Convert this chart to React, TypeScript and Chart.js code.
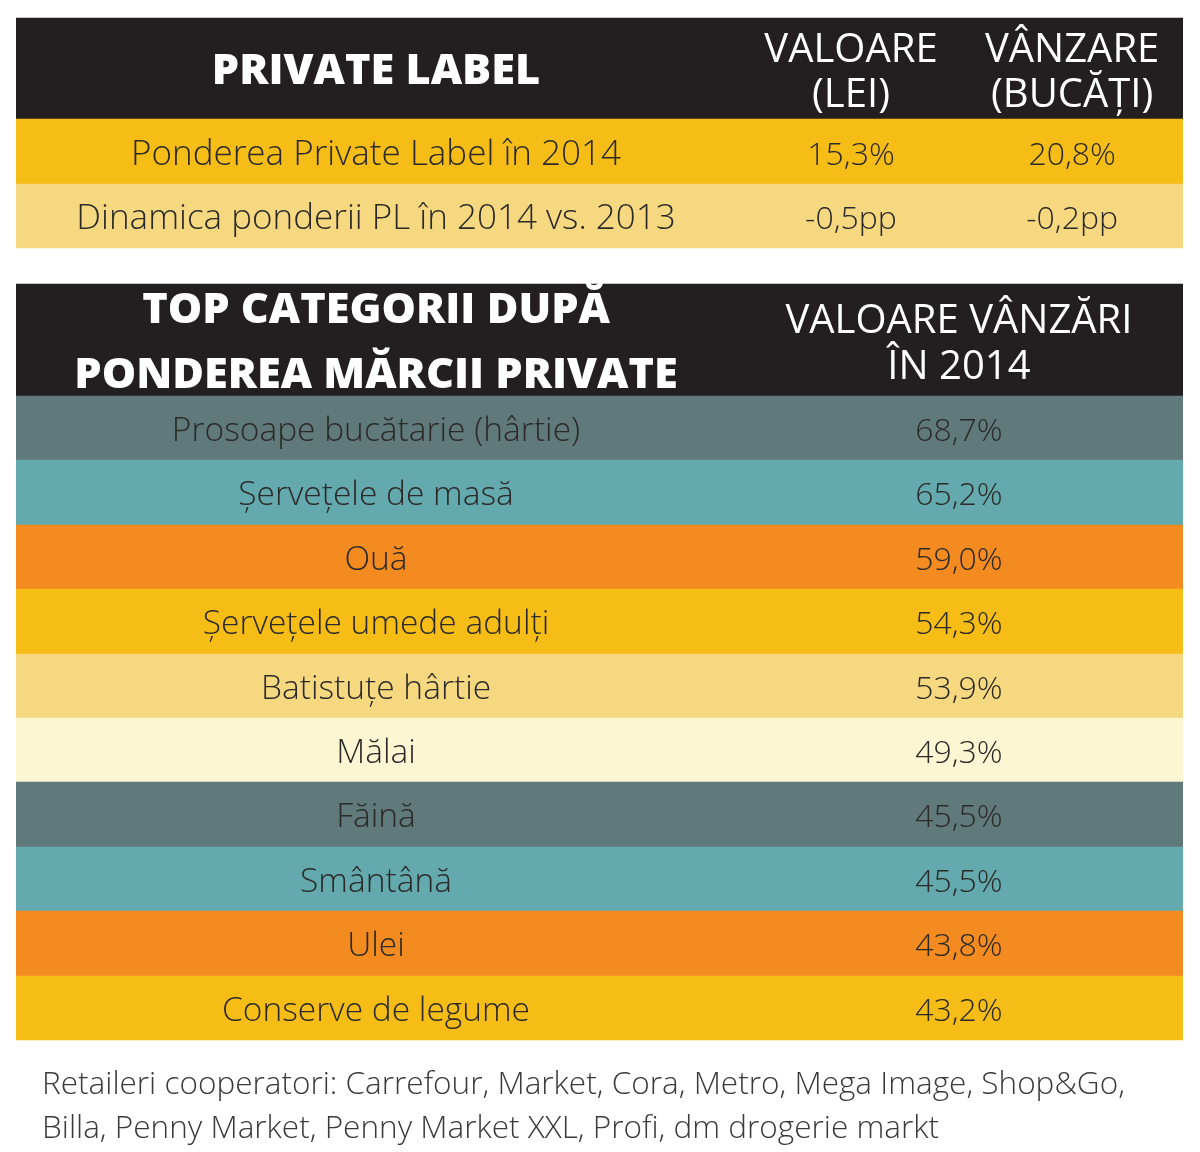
import React, { useEffect, useRef } from "react";
import { Chart, registerables } from "chart.js";

Chart.register(...registerables);

// ---------- data ----------
const summaryHeadLabel = "PRIVATE LABEL";
const summaryHeadValue = ["VALOARE", "(LEI)"];
const summaryHeadUnits = ["VÂNZARE", "(BUCĂȚI)"];
const summaryLabels = ["Ponderea Private Label în 2014", "Dinamica ponderii PL în 2014 vs. 2013"];
const summaryValue = ["15,3%", "-0,5pp"];
const summaryUnits = ["20,8%", "-0,2pp"];

const topHeadLabel = ["TOP CATEGORII DUPĂ", "PONDEREA MĂRCII PRIVATE"];
const topHeadValue = ["VALOARE VÂNZĂRI", "ÎN 2014"];
const categories = [
  "Prosoape bucătarie (hârtie)",
  "Șervețele de masă",
  "Ouă",
  "Șervețele umede adulți",
  "Batistuțe hârtie",
  "Mălai",
  "Făină",
  "Smântână",
  "Ulei",
  "Conserve de legume",
];
const shares = [68.7, 65.2, 59.0, 54.3, 53.9, 49.3, 45.5, 45.5, 43.8, 43.2];
const footnote = [
  "Retaileri cooperatori: Carrefour, Market, Cora, Metro, Mega Image, Shop&Go,",
  "Billa, Penny Market, Penny Market XXL, Profi, dm drogerie markt",
];

// ---------- styles ----------
const BLACK = "#231f20";
const YELLOW = "#f6bd16";
const LIGHT_YELLOW = "#f6d880";
const CREAM = "#fdf6d2";
const SLATE = "#607a7b";
const TEAL = "#64a9ad";
const ORANGE = "#f48b21";
const summaryColors = [YELLOW, LIGHT_YELLOW];
const categoryColors = [SLATE, TEAL, ORANGE, YELLOW, LIGHT_YELLOW, CREAM, SLATE, TEAL, ORANGE, YELLOW];

const FONT = '"Open Sans", "Noto Sans", sans-serif';
const TEXT_DARK = "#2b2a28";

// layout (px)
const W = 1200;
const H = 1152;
const TOP1 = 18;
const HEAD1_H = 101;
const SUM_ROW_H = 64.5;
const GAP = 36;
const HEAD2_H = 112;
const CAT_ROW_H = 64.4;

type Row = { kind: string; i: number; top: number; bottom: number; color: string };

function buildRows(): Row[] {
  const rows: Row[] = [];
  let y = TOP1;
  rows.push({ kind: "head1", i: 0, top: y, bottom: y + HEAD1_H, color: BLACK });
  y += HEAD1_H;
  summaryLabels.forEach((_, i) => {
    rows.push({ kind: "sum", i, top: Math.round(y), bottom: Math.round(y + SUM_ROW_H), color: summaryColors[i] });
    y += SUM_ROW_H;
  });
  y = Math.round(y) + GAP;
  rows.push({ kind: "head2", i: 0, top: y, bottom: y + HEAD2_H, color: BLACK });
  y += HEAD2_H;
  categories.forEach((_, i) => {
    rows.push({ kind: "cat", i, top: Math.round(y), bottom: Math.round(y + CAT_ROW_H), color: categoryColors[i] });
    y += CAT_ROW_H;
  });
  return rows;
}

function drawText(
  ctx: CanvasRenderingContext2D,
  text: string,
  cx: number,
  baseline: number,
  font: string,
  color: string,
  sx = 1,
  align: CanvasTextAlign = "center"
) {
  ctx.save();
  ctx.translate(cx, baseline);
  ctx.scale(sx, 1);
  ctx.font = font;
  ctx.fillStyle = color;
  ctx.textAlign = align;
  ctx.textBaseline = "alphabetic";
  ctx.fillText(text, 0, 0);
  ctx.restore();
}

const fmt = (v: number) => v.toFixed(1).replace(".", ",") + "%";

export default function App() {
  const ref = useRef<HTMLCanvasElement | null>(null);

  useEffect(() => {
    if (!ref.current) return;
    const rows = buildRows();

    const textPlugin = {
      id: "tableText",
      afterDatasetsDraw(chart: any) {
        const ctx: CanvasRenderingContext2D = chart.ctx;
        const meta = chart.getDatasetMeta(0);
        meta.data.forEach((el: any, idx: number) => {
          const r = rows[idx];
          const left = el.x - el.width / 2;
          const w = el.width;
          const cy = (el.y + el.base) / 2;
          const colL = left + w * 0.3085;
          const colV = left + w * 0.7155;
          const colU = left + w * 0.905;
          const colR = left + w * 0.808;
          if (r.kind === "head1") {
            drawText(ctx, summaryHeadLabel, colL, cy + 15, `800 42px ${FONT}`, "#ffffff", 1.03);
            const f = `400 40px ${FONT}`;
            const b1 = cy - 22.5 + 14.3 + 2;
            drawText(ctx, summaryHeadValue[0], colV, b1, f, "#ffffff");
            drawText(ctx, summaryHeadValue[1], colV, b1 + 45, f, "#ffffff");
            drawText(ctx, summaryHeadUnits[0], colU, b1, f, "#ffffff");
            drawText(ctx, summaryHeadUnits[1], colU, b1 + 45, f, "#ffffff");
          } else if (r.kind === "sum") {
            const b = cy + 13;
            drawText(ctx, summaryLabels[r.i], colL, b, `300 35px ${FONT}`, TEXT_DARK);
            drawText(ctx, summaryValue[r.i], colV, b, `300 32px ${FONT}`, TEXT_DARK);
            drawText(ctx, summaryUnits[r.i], colU, b, `300 32px ${FONT}`, TEXT_DARK);
          } else if (r.kind === "head2") {
            const fb = `800 42px ${FONT}`;
            const b1 = cy - 32.5 + 15;
            drawText(ctx, topHeadLabel[0], colL, b1, fb, "#ffffff", 1.03);
            drawText(ctx, topHeadLabel[1], colL, b1 + 65, fb, "#ffffff", 1.03);
            const f = `400 40px ${FONT}`;
            const b2 = cy - 23 + 14.3 + 2;
            drawText(ctx, topHeadValue[0], colR, b2, f, "#ffffff");
            drawText(ctx, topHeadValue[1], colR, b2 + 46, f, "#ffffff");
          } else {
            const b = cy + 12.5;
            drawText(ctx, categories[r.i], colL, b, `300 33.5px ${FONT}`, TEXT_DARK);
            drawText(ctx, fmt(shares[r.i]), colR, b, `300 32px ${FONT}`, TEXT_DARK);
          }
        });
        const last = meta.data[meta.data.length - 1] as any;
        const bottom = Math.max(last.y, last.base);
        footnote.forEach((line, i) => {
          drawText(ctx, line, 42, bottom + 54 + i * 44, `300 32px ${FONT}`, "#3a3a3a", 0.985, "left");
        });
      },
    };

    const chart = new Chart(ref.current, {
      type: "bar",
      data: {
        labels: ["table"],
        datasets: [
          {
            data: rows.map((r) => ({ x: "table", y: [r.top, r.bottom] })) as any,
            backgroundColor: rows.map((r) => r.color),
            borderWidth: 0,
            categoryPercentage: 1,
            barPercentage: 1,
            grouped: false,
          } as any,
        ],
      },
      options: {
        responsive: false,
        animation: false,
        devicePixelRatio: 1,
        layout: { padding: { left: 16, right: 17, top: 0, bottom: 0 } },
        plugins: {
          legend: { display: false },
          tooltip: { enabled: false },
          title: { display: false },
        },
        scales: {
          x: { type: "category", display: false, offset: true, grid: { display: false } },
          y: { type: "linear", display: false, min: 0, max: H, reverse: true },
        },
      },
      plugins: [textPlugin],
    });
    return () => chart.destroy();
  }, []);

  return (
    <div style={{ position: "absolute", left: 0, top: 0, width: W, height: H, background: "#ffffff" }}>
      <canvas ref={ref} width={W} height={H} style={{ width: W, height: H, display: "block" }} />
    </div>
  );
}
